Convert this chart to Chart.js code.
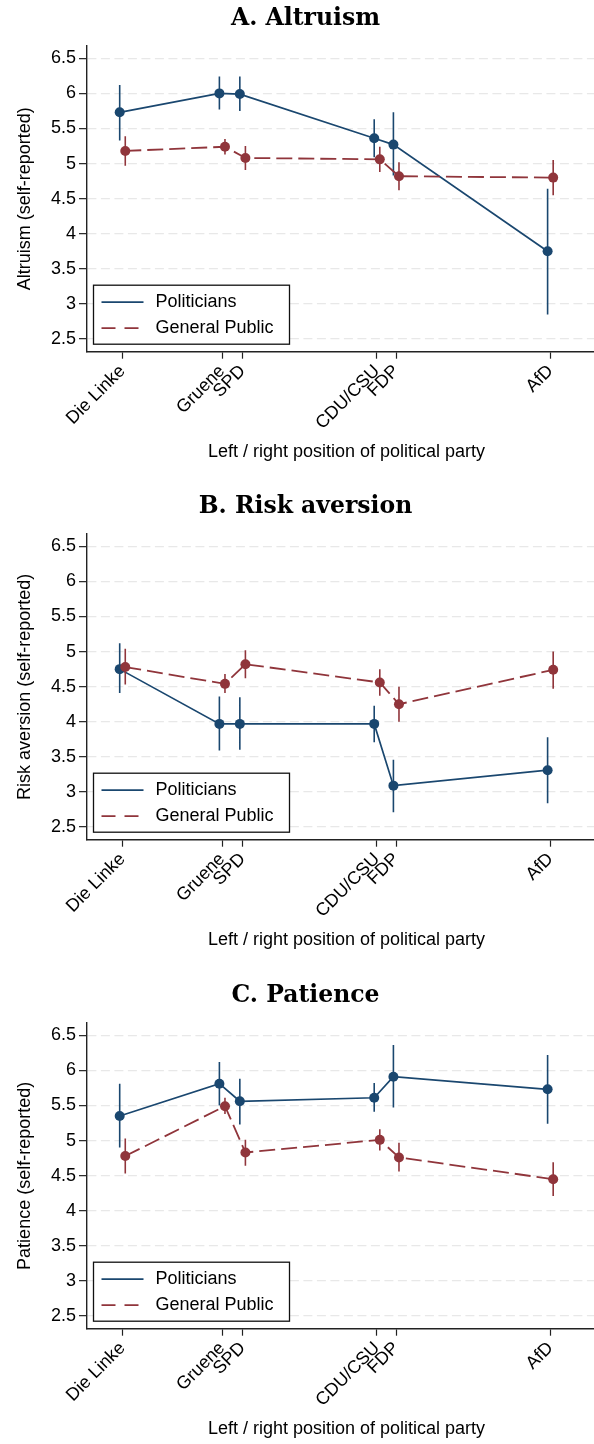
<!DOCTYPE html>
<html>
<head>
<meta charset="utf-8">
<script src="https://cdn.jsdelivr.net/npm/chart.js@4.4.1/dist/chart.umd.min.js"></script>
<style>
  body { margin: 0; background: #fff; overflow: hidden; }
  #wrap { position: relative; width: 594px; height: 1444px; overflow: hidden; background: #fff; }
  canvas { position: absolute; left: 0; }
</style>
</head>
<body>
<div id="wrap">
  <canvas id="chartA" width="611" height="489" style="top:0px"></canvas>
  <canvas id="chartB" width="611" height="489" style="top:488px"></canvas>
  <canvas id="chartC" width="611" height="489" style="top:977px"></canvas>
</div>
<script>
// parties and their left/right position (x axis)
const parties = ['Die Linke', 'Gruene', 'SPD', 'CDU/CSU', 'FDP', 'AfD'];
const partyPos = [1.50, 3.11, 3.44, 5.61, 5.92, 8.41];
const yTicks = [2.5, 3, 3.5, 4, 4.5, 5, 5.5, 6, 6.5];

// A. Altruism
const altruismPol   = [5.73, 6.00, 5.99, 5.36, 5.27, 3.75];
const altruismPolLo = [5.33, 5.77, 5.75, 5.09, 4.83, 2.85];
const altruismPolHi = [6.12, 6.24, 6.24, 5.63, 5.73, 4.64];
const altruismPub   = [5.18, 5.24, 5.08, 5.06, 4.82, 4.80];
const altruismPubLo = [4.97, 5.13, 4.91, 4.88, 4.62, 4.55];
const altruismPubHi = [5.39, 5.35, 5.25, 5.24, 5.02, 5.05];

// B. Risk aversion
const riskPol   = [4.75, 3.97, 3.97, 3.97, 3.09, 3.31];
const riskPolLo = [4.41, 3.59, 3.60, 3.71, 2.71, 2.84];
const riskPolHi = [5.12, 4.36, 4.35, 4.23, 3.46, 3.78];
const riskPub   = [4.78, 4.54, 4.82, 4.56, 4.25, 4.74];
const riskPubLo = [4.53, 4.41, 4.62, 4.37, 4.00, 4.47];
const riskPubHi = [5.04, 4.68, 5.02, 4.75, 4.50, 5.00];

// C. Patience
const patiencePol   = [5.35, 5.81, 5.56, 5.61, 5.91, 5.73];
const patiencePolLo = [4.90, 5.50, 5.23, 5.41, 5.47, 5.24];
const patiencePolHi = [5.81, 6.12, 5.88, 5.82, 6.36, 6.22];
const patiencePub   = [4.78, 5.49, 4.83, 5.01, 4.76, 4.45];
const patiencePubLo = [4.53, 5.38, 4.64, 4.86, 4.56, 4.21];
const patiencePubHi = [5.03, 5.61, 5.01, 5.16, 4.97, 4.69];

const NAVY = '#1a476f';
const MAROON = '#90353b';
const SANS = 'Liberation Sans, Arial, sans-serif';
const PUB_DASH = [16, 6];

// legend box inside the plot, bottom left
const boxLegend = {
  id: 'boxLegend',
  afterDraw(chart) {
    const { ctx, chartArea } = chart;
    const w = 196, h = 59;
    const x = chartArea.left + 6.5;
    const y = chartArea.bottom - 7.5 - h;
    ctx.save();
    ctx.fillStyle = '#fff';
    ctx.fillRect(x, y, w, h);
    ctx.strokeStyle = '#111';
    ctx.lineWidth = 1.3;
    ctx.strokeRect(x, y, w, h);
    const items = chart.data.datasets.filter(d => d.inLegend);
    // politicians first, then public
    items.sort((a, b) => a.legendRow - b.legendRow);
    items.forEach((d, i) => {
      const ly = y + 17 + i * 26;
      ctx.strokeStyle = d.borderColor;
      ctx.lineWidth = 1.8;
      ctx.setLineDash(d.borderDash ? [14, 9] : []);
      ctx.beginPath();
      ctx.moveTo(x + 8, ly);
      ctx.lineTo(x + 50, ly);
      ctx.stroke();
      ctx.setLineDash([]);
      ctx.fillStyle = '#000';
      ctx.font = '18px ' + SANS;
      ctx.textBaseline = 'middle';
      ctx.textAlign = 'left';
      ctx.fillText(d.label, x + 62, ly);
    });
    ctx.restore();
  }
};

function ciPoints(lo, hi, offset) {
  const pts = [];
  partyPos.forEach((p, i) => {
    pts.push({ x: p + offset, y: lo[i] });
    pts.push({ x: p + offset, y: hi[i] });
    pts.push({ x: p + offset, y: null });
  });
  return pts;
}

function meanPoints(vals, offset) {
  return partyPos.map((p, i) => ({ x: p + offset, y: vals[i] }));
}

function makePanel(id, title, yLabel, pol, polLo, polHi, pub, pubLo, pubHi) {
  const off = 0.045;
  const ctx = document.getElementById(id).getContext('2d');
  return new Chart(ctx, {
    type: 'line',
    data: {
      datasets: [
        {
          label: 'General Public', inLegend: true, legendRow: 1,
          data: meanPoints(pub, off),
          borderColor: MAROON, backgroundColor: MAROON, borderWidth: 1.8,
          borderDash: PUB_DASH, pointRadius: 5, pointBorderWidth: 0,
          pointBackgroundColor: MAROON, tension: 0, order: 0
        },
        {
          label: 'Public CI',
          data: ciPoints(pubLo, pubHi, off),
          borderColor: MAROON, borderWidth: 1.6, pointRadius: 0,
          spanGaps: false, order: 1
        },
        {
          label: 'Politicians', inLegend: true, legendRow: 0,
          data: meanPoints(pol, -off),
          borderColor: NAVY, backgroundColor: NAVY, borderWidth: 1.7,
          pointRadius: 5, pointBorderWidth: 0,
          pointBackgroundColor: NAVY, tension: 0, order: 2
        },
        {
          label: 'Politicians CI',
          data: ciPoints(polLo, polHi, -off),
          borderColor: NAVY, borderWidth: 1.6, pointRadius: 0,
          spanGaps: false, order: 3
        }
      ]
    },
    options: {
      responsive: false,
      animation: false,
      devicePixelRatio: 1,
      layout: { padding: 0 },
      plugins: {
        legend: { display: false },
        tooltip: { enabled: false },
        title: {
          display: true,
          text: title,
          color: '#000',
          font: { family: 'DejaVu Serif', size: 23.5, weight: 'bold' },
          padding: { top: 5, bottom: 12.8 }
        }
      },
      scales: {
        x: {
          type: 'linear',
          min: 0.927,
          max: 9.308,
          afterBuildTicks: s => { s.ticks = partyPos.map(v => ({ value: v })); },
          afterFit: s => { s.height = 137.3; },
          ticks: {
            autoSkip: false, minRotation: 45, maxRotation: 45, padding: 2,
            color: '#000', font: { family: SANS, size: 18 },
            callback: (v, i) => parties[i]
          },
          grid: { drawOnChartArea: false, drawTicks: true, tickLength: 7, tickColor: '#222', tickWidth: 1.2 },
          border: { color: '#222', width: 1.4 },
          title: {
            display: true, text: 'Left / right position of political party',
            color: '#000', font: { family: SANS, size: 18 },
            padding: { top: 0, bottom: 26 }
          }
        },
        y: {
          type: 'linear',
          min: 2.32,
          max: 6.675,
          afterBuildTicks: s => { s.ticks = yTicks.map(v => ({ value: v })); },
          afterFit: s => { s.width = 87; },
          ticks: {
            padding: 3, color: '#000', font: { family: SANS, size: 18 },
            callback: v => String(v)
          },
          grid: { color: '#e8e8e8', lineWidth: 1.3, tickLength: 8, tickColor: '#222', tickWidth: 1.2, tickBorderDash: [] },
          border: { color: '#222', width: 1.4, dash: [9, 4.5] },
          title: {
            display: true, text: yLabel,
            color: '#000', font: { family: SANS, size: 18 },
            padding: { top: 14, bottom: 0 }
          }
        }
      }
    },
    plugins: [boxLegend]
  });
}

makePanel('chartA', 'A. Altruism', 'Altruism (self-reported)',
  altruismPol, altruismPolLo, altruismPolHi, altruismPub, altruismPubLo, altruismPubHi);
makePanel('chartB', 'B. Risk aversion', 'Risk aversion (self-reported)',
  riskPol, riskPolLo, riskPolHi, riskPub, riskPubLo, riskPubHi);
makePanel('chartC', 'C. Patience', 'Patience (self-reported)',
  patiencePol, patiencePolLo, patiencePolHi, patiencePub, patiencePubLo, patiencePubHi);
</script>
</body>
</html>
